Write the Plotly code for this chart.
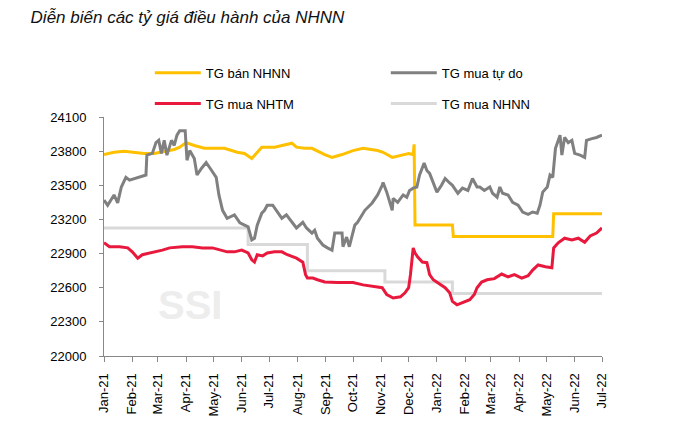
import plotly.graph_objects as go

FONT = "Liberation Sans, Arial, sans-serif"

# TG mua tự do (free market)
free_dates = ["2021-01-01","2021-01-05","2021-01-12","2021-01-16","2021-01-20","2021-01-25","2021-01-29",
 "2021-02-09","2021-02-16","2021-02-17","2021-02-23","2021-02-27","2021-03-02","2021-03-05","2021-03-08",
 "2021-03-11","2021-03-16","2021-03-19","2021-03-22","2021-03-25","2021-03-31","2021-04-02","2021-04-05",
 "2021-04-10","2021-04-13","2021-04-18","2021-04-23","2021-04-29","2021-05-04","2021-05-07","2021-05-11",
 "2021-05-16","2021-05-24","2021-05-30","2021-06-04","2021-06-08","2021-06-12","2021-06-15","2021-06-18",
 "2021-06-23","2021-06-26","2021-06-29","2021-07-05","2021-07-10","2021-07-15","2021-07-20","2021-07-26",
 "2021-07-31","2021-08-07","2021-08-11","2021-08-17","2021-08-20","2021-08-23","2021-08-29","2021-09-03",
 "2021-09-08","2021-09-11","2021-09-19","2021-09-20","2021-09-24","2021-09-27","2021-10-01","2021-10-03",
 "2021-10-06","2021-10-11","2021-10-14","2021-10-22","2021-10-25","2021-10-28","2021-11-02","2021-11-03",
 "2021-11-07","2021-11-10","2021-11-13","2021-11-14","2021-11-19","2021-11-25","2021-11-29","2021-12-02",
 "2021-12-06","2021-12-10","2021-12-13","2021-12-18","2021-12-21","2021-12-24","2021-12-30","2022-01-01",
 "2022-01-06","2022-01-10","2022-01-15","2022-01-18","2022-01-24","2022-01-29","2022-02-04","2022-02-09",
 "2022-02-14","2022-02-17","2022-02-22","2022-02-28","2022-03-03","2022-03-08","2022-03-11","2022-03-14",
 "2022-03-20","2022-03-25","2022-03-31","2022-04-05","2022-04-11","2022-04-16","2022-04-21","2022-04-24",
 "2022-04-27","2022-05-02","2022-05-05","2022-05-08","2022-05-11","2022-05-14","2022-05-16","2022-05-18",
 "2022-05-21","2022-05-25","2022-05-29","2022-06-01","2022-06-07","2022-06-12","2022-06-14","2022-06-20",
 "2022-06-25","2022-07-01"]
free_vals = [23370,23325,23415,23345,23485,23570,23545,
 23570,23590,23765,23780,23875,23895,23780,23895,
 23765,23895,23850,23940,23980,23980,23720,23805,
 23735,23590,23650,23700,23630,23570,23415,23280,
 23210,23240,23170,23150,23135,23020,23035,23150,
 23255,23280,23325,23325,23265,23210,23240,23175,
 23125,23175,23125,23080,23105,23035,22975,22950,
 22930,23080,23080,22960,23045,22960,23105,23150,
 23175,23240,23280,23345,23385,23415,23500,23525,
 23440,23350,23280,23385,23350,23415,23395,23455,
 23475,23485,23590,23695,23630,23605,23485,23440,
 23500,23560,23520,23500,23430,23475,23455,23560,
 23485,23485,23455,23485,23430,23395,23485,23430,
 23415,23350,23325,23265,23245,23265,23255,23325,
 23440,23485,23590,23570,23825,23895,23940,23765,
 23920,23875,23895,23780,23765,23745,23895,23910,
 23920,23940]

# TG bán NHNN (SBV selling rate)
sell_dates = ["2021-01-01","2021-01-12","2021-01-23","2021-02-03","2021-02-14","2021-02-25","2021-03-08",
 "2021-03-19","2021-03-25","2021-04-01","2021-04-10","2021-04-21","2021-05-04","2021-05-13","2021-05-27",
 "2021-06-04","2021-06-12","2021-06-18","2021-06-23","2021-07-07","2021-07-15","2021-07-26","2021-07-31",
 "2021-08-09","2021-08-17","2021-08-22","2021-08-31","2021-09-08","2021-09-19","2021-10-01","2021-10-12",
 "2021-10-28","2021-11-03","2021-11-13","2021-11-22","2021-12-01","2021-12-06","2021-12-07","2021-12-08",
 "2022-01-18","2022-01-19","2022-05-08","2022-05-09","2022-07-01"]
sell_vals = [23770,23790,23800,23790,23780,23780,23800,
 23815,23835,23875,23850,23825,23825,23825,23790,
 23780,23735,23790,23835,23835,23850,23870,23835,
 23825,23825,23805,23770,23745,23770,23805,23825,
 23805,23790,23745,23765,23780,23770,23860,23150,
 23150,23050,23050,23250,23250]

# TG mua NHTM (commercial bank buying rate)
bank_dates = ["2021-01-01","2021-01-07","2021-01-18","2021-01-27","2021-02-01","2021-02-07","2021-02-12",
 "2021-02-20","2021-02-27","2021-03-06","2021-03-14","2021-03-28","2021-04-08","2021-04-19","2021-04-30",
 "2021-05-08","2021-05-16","2021-05-24","2021-06-01","2021-06-08","2021-06-12","2021-06-15","2021-06-18",
 "2021-06-24","2021-06-29","2021-07-07","2021-07-15","2021-07-21","2021-07-31","2021-08-07","2021-08-10",
 "2021-08-12","2021-08-18","2021-08-23","2021-08-31","2021-09-14","2021-10-01","2021-10-12","2021-10-28",
 "2021-11-02","2021-11-07","2021-11-14","2021-11-22","2021-11-27","2021-12-01","2021-12-03","2021-12-06",
 "2021-12-08","2021-12-11","2021-12-16","2021-12-21","2021-12-24","2021-12-28","2022-01-02","2022-01-10",
 "2022-01-15","2022-01-18","2022-01-23","2022-01-29","2022-02-06","2022-02-11","2022-02-14","2022-02-19",
 "2022-02-25","2022-03-05","2022-03-13","2022-03-20","2022-03-27","2022-04-04","2022-04-11","2022-04-16",
 "2022-04-22","2022-04-30","2022-05-07","2022-05-09","2022-05-14","2022-05-21","2022-05-29","2022-06-05",
 "2022-06-12","2022-06-18","2022-06-25","2022-07-01"]
bank_vals = [22995,22960,22960,22950,22915,22860,22890,
 22905,22915,22930,22950,22960,22960,22950,22950,
 22930,22915,22915,22930,22905,22845,22825,22890,
 22880,22905,22915,22915,22890,22860,22825,22715,
 22685,22685,22670,22650,22645,22645,22625,22610,
 22600,22540,22510,22520,22555,22600,22715,22950,
 22905,22870,22825,22820,22715,22670,22645,22600,
 22555,22480,22450,22470,22495,22540,22600,22650,
 22670,22680,22720,22695,22715,22685,22705,22755,
 22800,22785,22775,22950,22995,23035,23020,23035,
 23000,23055,23080,23125]

# TG mua NHNN (SBV buying rate, step changes)
buy_dates = ["2021-01-01","2021-06-08","2021-08-12","2021-11-05","2022-01-18","2022-07-01"]
buy_vals = [23125,22980,22750,22650,22550,22550]

y_ticks = list(range(22000, 24101, 300))

fig = go.Figure()
fig.add_trace(go.Scatter(x=buy_dates, y=buy_vals, mode="lines", name="TG mua NHNN",
                         line=dict(color="#D9D9D9", width=3, shape="hv"), legend="legend2", legendrank=2))
fig.add_trace(go.Scatter(x=bank_dates, y=bank_vals, mode="lines", name="TG mua NHTM",
                         line=dict(color="#E8193C", width=3), legend="legend2", legendrank=1))
fig.add_trace(go.Scatter(x=sell_dates, y=sell_vals, mode="lines", name="TG bán NHNN",
                         line=dict(color="#FFC000", width=3), legend="legend", legendrank=1))
fig.add_trace(go.Scatter(x=free_dates, y=free_vals, mode="lines", name="TG mua tự do",
                         line=dict(color="#808080", width=3), legend="legend", legendrank=2))

leg_common = dict(orientation="h", xanchor="left", yanchor="middle", entrywidth=175,
                  font=dict(family=FONT, size=13, color="#000"), itemwidth=46,
                  bgcolor="rgba(0,0,0,0)", tracegroupgap=0, traceorder="normal")

fig.update_layout(
    width=680, height=429,
    margin=dict(l=104, r=78, t=116.5, b=72.5),
    paper_bgcolor="white", plot_bgcolor="white",
    font=dict(family=FONT, size=13, color="#000"),
    title=dict(text="<i>Diễn biến các tỷ giá điều hành của NHNN</i>", x=0.045, xanchor="left",
               y=0.96, yanchor="middle", font=dict(family=FONT, size=17, color="#111")),
    legend=dict(x=0.092, y=1.185, **leg_common),
    legend2=dict(x=0.092, y=1.056, **leg_common),
    xaxis=dict(type="date", range=["2021-01-01", "2022-07-01"], dtick="M1", tick0="2021-01-01",
               tickformat="%b-%y", tickangle=-90, ticks="outside", ticklen=5, tickcolor="#888",
               showline=True, linecolor="#888", linewidth=1, showgrid=False, zeroline=False,
               ticklabelstandoff=6, tickfont=dict(family=FONT, size=13, color="#000")),
    yaxis=dict(range=[22000, 24100], tickvals=y_ticks, tickformat="d", ticks="outside", ticklen=4,
               tickcolor="#888", showline=True, linecolor="#888", linewidth=1, showgrid=False,
               zeroline=False, ticklabelstandoff=10, tickfont=dict(family=FONT, size=13, color="#000")),
    annotations=[dict(text="<b>SSI</b>", xref="paper", yref="paper", x=0.173, y=0.215,
                      xanchor="center", yanchor="middle",
                      showarrow=False, font=dict(family=FONT, size=40, color="#EDEDED"))],
)

fig.write_html("out.html")
